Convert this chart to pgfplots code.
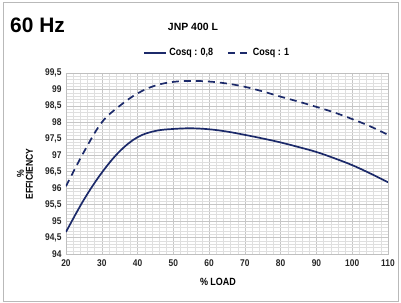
\documentclass[border=0pt]{standalone}
\usepackage{fontspec}
\setmainfont{Liberation Sans}
\newfontfamily\narrow[FakeStretch=0.86]{Liberation Sans}
\usepackage{pgfplots}
\pgfplotsset{compat=1.18}
\definecolor{navy}{HTML}{1C2A6A}
\begin{document}
\begin{tikzpicture}[x=1bp,y=1bp]
\begin{axis}[
  at={(0,0)}, anchor=south west,
  scale only axis, width=322bp, height=181bp,
  xmin=20, xmax=110, ymin=94, ymax=99.5,
  xtick={20,30,...,110},
  ytick={94,94.5,...,99.5},
  minor x tick num=4, minor y tick num=4,
  grid=both,
  major grid style={draw=gray!45, line width=0.5pt},
  minor grid style={draw=gray!25, line width=0.4pt},
  axis line style={draw=gray!50},
  tick style={draw=none},
  major tick length=0pt, minor tick length=0pt,
  /pgf/number format/assume math mode=true,
  /pgf/number format/use comma,
  /pgf/number format/1000 sep={},
  ticklabel style={font=\narrow\bfseries\fontsize{9.8}{10}\selectfont, text=black!85},
  xticklabel style={yshift=-2bp},
  yticklabel style={xshift=-1bp},
  legend style={draw=none, fill=none, at={(0.47,1.11)}, anchor=center,
    font=\narrow\bfseries\fontsize{10.5}{11}\selectfont, legend columns=2,
    /tikz/every even column/.append style={column sep=12bp}},
  legend image code/.code={\draw[#1] (0bp,0bp) -- (22bp,0bp);},
]
\addplot[navy, line width=1.7pt, smooth, tension=0.6] coordinates {
(20,94.67) (25,95.65) (30,96.47) (35,97.12) (40,97.55) (45,97.74) (50,97.8) (55,97.82) (60,97.79) (65,97.72) (70,97.62) (75,97.51) (80,97.39) (85,97.25) (90,97.1) (95,96.91) (100,96.7) (105,96.45) (110,96.18)
};
\addlegendentry{Cosq : 0,8}
\addplot[navy, line width=1.7pt, dash pattern=on 7bp off 5bp, smooth, tension=0.6] coordinates {
(20,96.06) (25,97.1) (30,98.0) (35,98.5) (40,98.88) (45,99.12) (50,99.23) (55,99.26) (60,99.24) (65,99.18) (70,99.08) (75,98.94) (80,98.78) (85,98.63) (90,98.47) (95,98.3) (100,98.1) (105,97.88) (110,97.62)
};
\addlegendentry{Cosq : 1}
\end{axis}
\draw[gray!55, line width=1pt] (-63bp,-47bp) rectangle (332bp,251bp);
\node[anchor=west, font=\bfseries\fontsize{21}{24}\selectfont, inner sep=0pt] at (-56bp,229bp) {60 Hz};
\node[font=\bfseries\fontsize{10.5}{12}\selectfont, inner sep=0pt] at (127bp,227bp) {JNP 400 L};
\node[rotate=90, align=center, font=\narrow\bfseries\fontsize{10}{9}\selectfont, inner sep=0pt] at (-41bp,80bp) {\%\\EFFICIENCY};
\node[font=\narrow\bfseries\fontsize{10.5}{12}\selectfont, inner sep=0pt] at (152bp,-28bp) {\% LOAD};
\useasboundingbox (-66bp,-49bp) rectangle (335bp,254bp);
\end{tikzpicture}
\end{document}
